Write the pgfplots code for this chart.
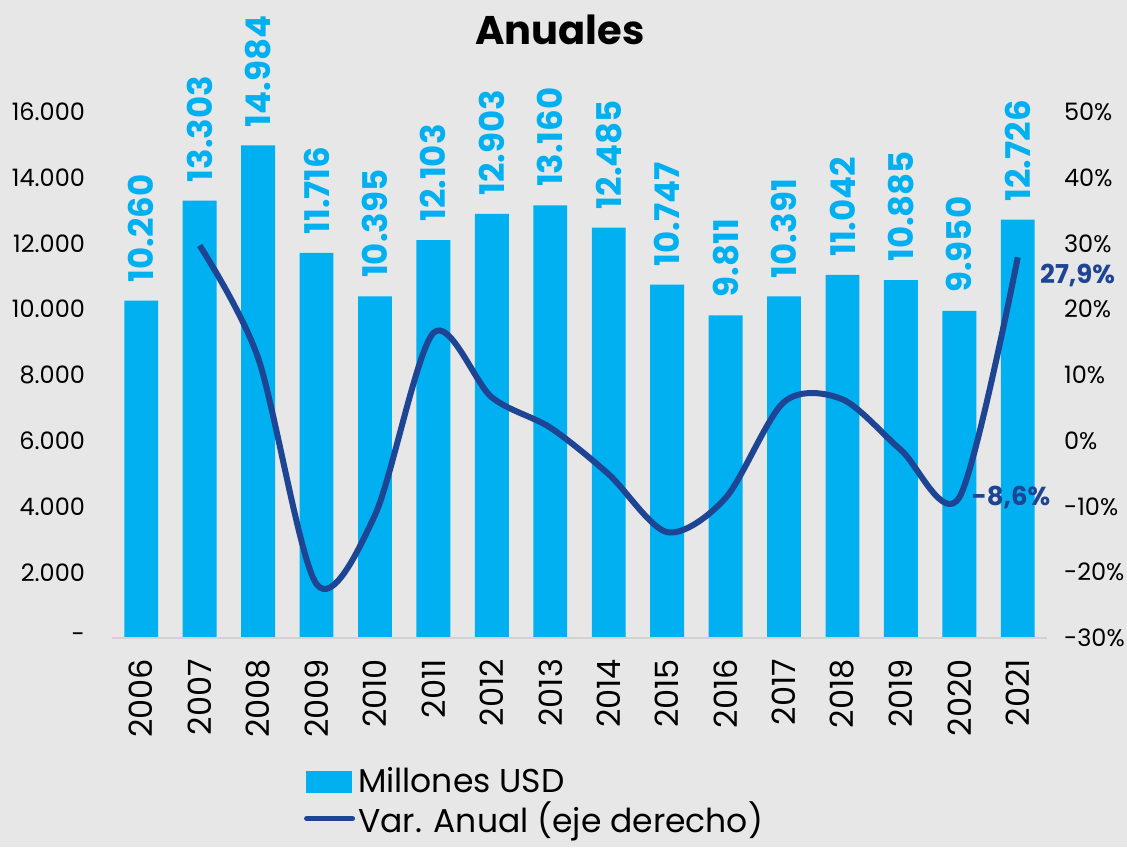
\documentclass[border=0pt]{standalone}
\usepackage{pgfplots}
\pgfplotsset{compat=1.18}
\usepackage{fontspec}
\setmainfont{Poppins}
\definecolor{barblue}{HTML}{00B0F0}
\definecolor{lineblue}{HTML}{1E4494}
\definecolor{bg}{HTML}{E7E7E7}
\definecolor{axisgray}{HTML}{D2D2D2}
\begin{document}
\begin{tikzpicture}
\fill[bg] (-56pt,-104.5pt) rectangle (507.5pt,319pt);
\path[use as bounding box] (-56pt,-104.5pt) rectangle (507.5pt,319pt);
\begin{axis}[
  at={(0,0)}, anchor=south west,
  scale only axis, width=467.5pt, height=263pt,
  xmin=-0.5, xmax=15.5, ymin=0, ymax=16000,
  scaled y ticks=false,
  axis line style={draw=none},
  major tick length=0pt,
  clip=false,
  ybar, bar width=0.58,
  xtick={0,...,15},
  xticklabels={2006,2007,2008,2009,2010,2011,2012,2013,2014,2015,2016,2017,2018,2019,2020,2021},
  xticklabel style={yshift=-7pt, rotate=90, anchor=east, font=\fontsize{16}{18}\selectfont},
  ytick={0,2000,4000,6000,8000,10000,12000,14000,16000},
  yticklabels={-,2.000,4.000,6.000,8.000,10.000,12.000,14.000,16.000},
  yticklabel style={xshift=-10pt, font=\fontsize{12}{14}\selectfont},
  point meta=explicit symbolic,
  nodes near coords={\pgfplotspointmeta},
  nodes near coords style={yshift=9pt, rotate=90, anchor=west, inner sep=0pt,
     font=\bfseries\fontsize{17}{19}\selectfont, text=barblue},
]
\addplot[fill=barblue, draw=none] coordinates {
 (0,10260) [10.260]
 (1,13303) [13.303]
 (2,14984) [14.984]
 (3,11716) [11.716]
 (4,10395) [10.395]
 (5,12103) [12.103]
 (6,12903) [12.903]
 (7,13160) [13.160]
 (8,12485) [12.485]
 (9,10747) [10.747]
 (10,9811) [9.811]
 (11,10391) [10.391]
 (12,11042) [11.042]
 (13,10885) [10.885]
 (14,9950) [9.950]
 (15,12726) [12.726]
};
\draw[axisgray, line width=1.2pt] (rel axis cs:0,0) -- (rel axis cs:1,0);
\end{axis}
\begin{axis}[
  at={(0,0)}, anchor=south west,
  scale only axis, width=467.5pt, height=263pt,
  xmin=-0.5, xmax=15.5, ymin=-30, ymax=50,
  axis y line*=right, axis x line=none,
  axis line style={draw=none},
  major tick length=0pt,
  clip=false,
  ytick={-30,-20,-10,0,10,20,30,40,50},
  yticklabels={-30\%,-20\%,-10\%,0\%,10\%,20\%,30\%,40\%,50\%},
  yticklabel style={xshift=5pt, font=\fontsize{12}{14}\selectfont},
  legend style={at={(0.205,-0.24)}, anchor=north west, draw=none, fill=none,
     font=\fontsize{16.5}{18}\selectfont, row sep=0pt, inner sep=0pt,
     nodes={inner sep=1.5pt}},
  legend cell align=left,
]
\addlegendimage{legend image code/.code={\fill[barblue] (0pt,-5.25pt) rectangle (22.5pt,5.25pt);}}
\addlegendentry{Millones USD}
\addplot[lineblue, line width=3pt, smooth, tension=0.5,
  legend image code/.code={\draw[lineblue, line width=2.5pt, line cap=round] (0pt,0pt) -- (23pt,0pt);}]
 coordinates {
 (1,29.7) (2,12.6) (3,-21.8) (4,-11.3) (5,16.4) (6,6.6) (7,2.0) (8,-5.1)
 (9,-13.9) (10,-8.7) (11,5.9) (12,6.3) (13,-1.4) (14,-8.6) (15,27.9)
};
\addlegendentry{Var. Anual (eje derecho)}
\node[anchor=west, inner sep=0pt, text=lineblue, font=\bfseries\fontsize{13}{15}\selectfont,
  xshift=11pt, yshift=-9pt] at (axis cs:15,27.9) {27,9\%};
\node[anchor=west, inner sep=0pt, text=lineblue, font=\bfseries\fontsize{13}{15}\selectfont,
  xshift=6pt] at (axis cs:14,-8.6) {-8,6\%};
\end{axis}
\node[font=\bfseries\fontsize{20}{24}\selectfont] at (224pt,304pt) {Anuales};
\end{tikzpicture}
\end{document}
